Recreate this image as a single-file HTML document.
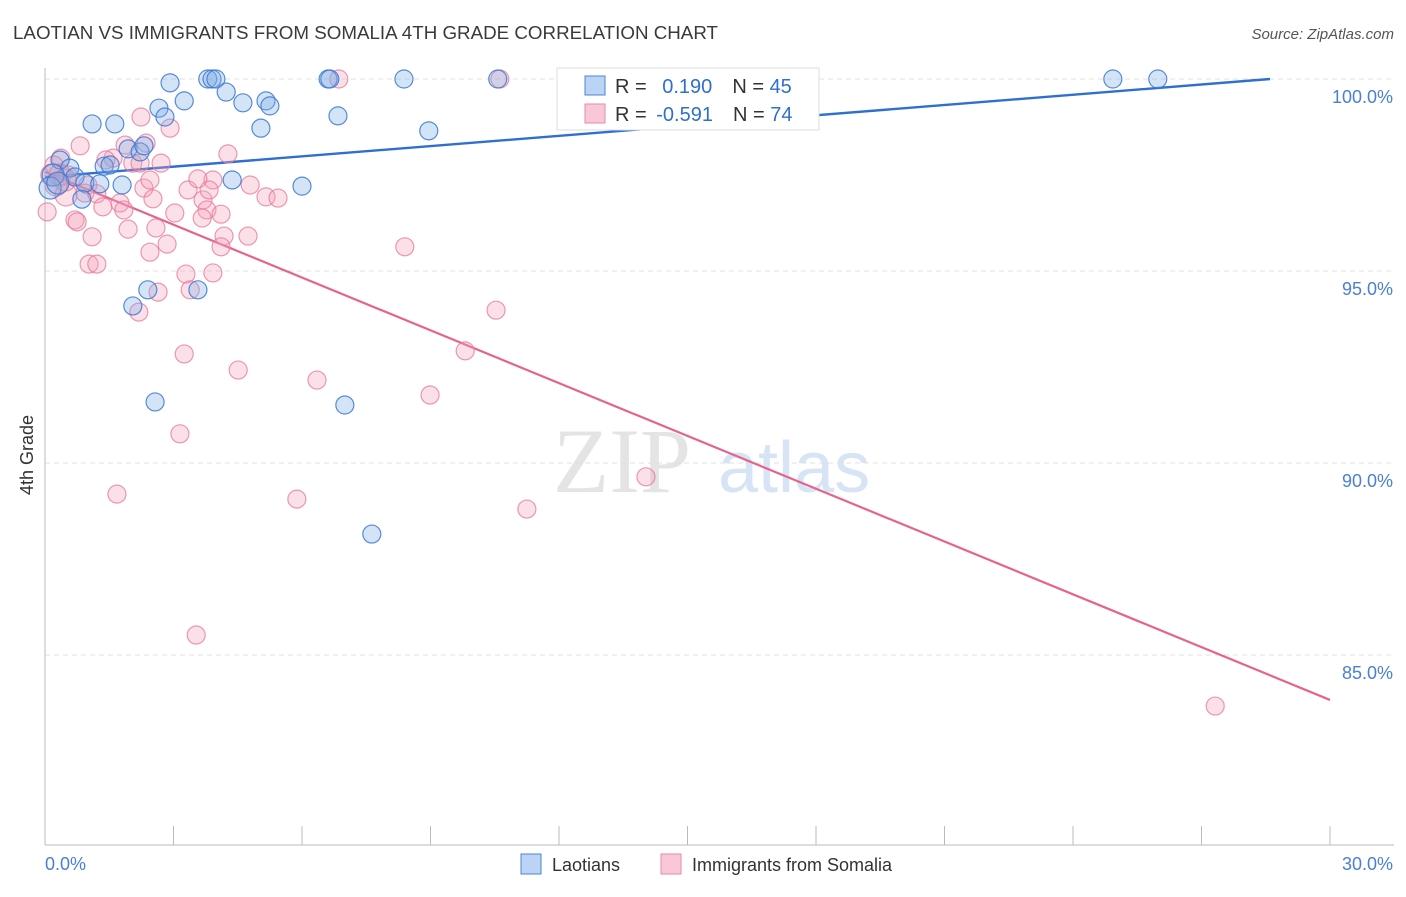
<!DOCTYPE html>
<html><head><meta charset="utf-8"><style>
body{margin:0;background:#fff;font-family:"Liberation Sans",sans-serif;}
</style></head><body>
<svg id="chart" width="1406" height="892" xmlns="http://www.w3.org/2000/svg" font-family="Liberation Sans, sans-serif">
<text x="13" y="39" font-size="18" fill="#3a3a3a" textLength="705" lengthAdjust="spacingAndGlyphs">LAOTIAN VS IMMIGRANTS FROM SOMALIA 4TH GRADE CORRELATION CHART</text>
<text x="1394" y="39" font-size="15" fill="#555" text-anchor="end" font-style="italic">Source: ZipAtlas.com</text>
<g>
<text x="553" y="492" font-size="92" font-family="Liberation Serif, serif" fill="#e4e4e4">ZIP</text>
<text x="718" y="492" font-size="72" fill="#d6e4f5">atlas</text>
</g>
<g id="grid"></g>
<g id="axes"></g>
<g id="trends"></g>
<g id="points"></g>
<text transform="translate(33,455) rotate(-90)" font-size="18" fill="#333" text-anchor="middle">4th Grade</text>
<text x="45" y="870" font-size="18" fill="#4a7fd4">0.0%</text>
<text x="1393" y="870" font-size="18" fill="#4a7fd4" text-anchor="end">30.0%</text>
<g>
<rect x="557" y="68" width="262" height="62" fill="#fff" stroke="#ddd"/>
<rect x="585" y="76" width="20" height="19" fill="#bcd4f3" stroke="#4a85d6"/>
<rect x="585" y="104" width="20" height="19" fill="#f9c8d6" stroke="#e88aa5"/>
<text x="615" y="93" font-size="20" fill="#333">R = <tspan fill="#2f6fd0" dx="10">0.190</tspan><tspan dx="20">N = </tspan><tspan fill="#2f6fd0">45</tspan></text>
<text x="615" y="121" font-size="20" fill="#333">R = <tspan fill="#2f6fd0" dx="4">-0.591</tspan><tspan dx="20">N = </tspan><tspan fill="#2f6fd0">74</tspan></text>
</g>
<g>
<rect x="521" y="854" width="20" height="20" fill="#bcd4f3" stroke="#4a85d6"/>
<text x="552" y="871" font-size="18" fill="#333">Laotians</text>
<rect x="661" y="854" width="20" height="20" fill="#f9c8d6" stroke="#e88aa5"/>
<text x="692" y="871" font-size="18" fill="#333">Immigrants from Somalia</text>
</g>
</svg>
<script>
const yTicks=[100,95,90,85];
const yTickLabels=["100.0%","95.0%","90.0%","85.0%"];
const xTicks=[0,3,6,9,12,15,18,21,24,27,30];
const blueX=[2.92,3.80,3.90,3.99,6.61,6.65,8.38,10.57,24.93,25.98,2.66,3.25,4.23,4.62,5.16,5.25,2.80,1.10,1.63,5.04,6.84,8.96,1.94,2.22,2.31,1.38,1.52,0.35,0.58,0.70,0.19,0.12,0.30,0.93,1.28,1.80,4.37,6.00,0.86,2.40,3.57,2.05,2.57,7.00,7.63];
const blueY=[99.9,100,100,100,100,100,100,100,100,100,99.24,99.43,99.66,99.38,99.43,99.30,99.01,98.83,98.83,98.72,99.04,98.65,98.18,98.10,98.26,97.73,97.76,97.89,97.68,97.45,97.50,97.16,97.29,97.29,97.27,97.24,97.37,97.21,96.87,94.51,94.51,94.09,91.59,91.51,88.15];
const pinkX=[6.86,10.62,2.24,2.92,0.82,2.36,4.27,1.87,1.59,0.37,0.21,1.42,2.05,2.71,0.16,0.54,1.00,2.31,3.34,3.92,3.57,5.16,5.44,0.49,0.93,1.21,1.35,1.75,1.84,2.52,3.03,3.69,3.78,4.11,0.05,0.70,0.75,3.67,1.10,1.94,2.59,4.18,4.74,2.85,2.45,4.11,8.40,1.03,1.21,3.29,3.92,3.39,2.64,2.19,10.53,3.25,9.81,4.51,6.35,8.99,3.15,1.68,5.88,14.03,11.25,3.53,27.32,0.35,0.26,0.47,2.22,2.45,3.83,4.79];
const pinkY=[100,100,99.01,98.72,98.26,98.33,98.05,98.28,97.94,97.94,97.76,97.89,97.81,97.81,97.50,97.50,97.24,97.16,97.11,97.37,97.40,96.93,96.90,96.98,97.03,97.01,96.67,96.77,96.59,96.88,96.51,96.85,96.59,96.48,96.54,96.33,96.28,96.38,95.89,96.09,96.12,95.91,95.91,95.70,95.49,95.63,95.63,95.18,95.18,94.92,94.95,94.51,94.45,93.93,93.98,92.84,92.92,92.42,92.16,91.77,90.76,89.19,89.06,89.64,88.80,85.52,83.67,97.50,97.24,97.37,97.81,97.37,97.11,97.24];
const blueTrendX=[0,28.6];
const blueTrendY=[97.45,100];
const pinkTrendX=[0,30];
const pinkTrendY=[97.58,83.83];
const NS="http://www.w3.org/2000/svg";
const xs=v=>45+v/30*1285;
const ys=v=>79+(100-v)/5*192;
function mk(tag,attrs,parent){const e=document.createElementNS(NS,tag);for(const k in attrs)e.setAttribute(k,attrs[k]);parent.appendChild(e);return e;}
const grid=document.getElementById('grid'),axes=document.getElementById('axes'),trends=document.getElementById('trends'),pts=document.getElementById('points');
yTicks.forEach((t,i)=>{
 const l=mk('line',{x1:45,x2:1394,y1:ys(t),y2:ys(t),stroke:'#e0e0e0','stroke-dasharray':'5,4'},grid);
 
 
 const tx=mk('text',{x:1393,y:ys(t)+24,'font-size':18,fill:'#4a7fd4','text-anchor':'end'},grid);
 tx.textContent=yTickLabels[i];
 
 
});
const ya=mk('line',{x1:45,x2:45,y1:68,y2:845,stroke:'#bbb'},axes);


const xa=mk('line',{x1:45,x2:1394,y1:845,y2:845,stroke:'#bbb'},axes);


xTicks.forEach(t=>{
 const l=mk('line',{x1:xs(t),x2:xs(t),y1:826,y2:845,stroke:'#bbb'},axes);
 
 
});
function dots(X,Y,fill,stroke,name){
 X.forEach((x,i)=>{
  const r=(x<0.5&&Math.abs(Y[i]-97.3)<0.4)?11:9;
  const c=mk('circle',{cx:xs(x),cy:ys(Y[i]),r:r,fill:fill,stroke:stroke,'stroke-width':1.2},pts);
  
  
 });
}
dots(pinkX,pinkY,'rgba(246,160,185,0.32)','rgba(230,120,155,0.75)','somalia-point');
dots(blueX,blueY,'rgba(120,170,230,0.32)','rgba(60,120,210,0.85)','laotian-point');
const bt=mk('line',{x1:xs(blueTrendX[0]),y1:ys(blueTrendY[0]),x2:xs(blueTrendX[1]),y2:ys(blueTrendY[1]),stroke:'#2f6fd0','stroke-width':2.4},trends);


const pt=mk('line',{x1:xs(pinkTrendX[0]),y1:ys(pinkTrendY[0]),x2:xs(pinkTrendX[1]),y2:ys(pinkTrendY[1]),stroke:'#e5648e','stroke-width':2.2},trends);


</script>
</body></html>
